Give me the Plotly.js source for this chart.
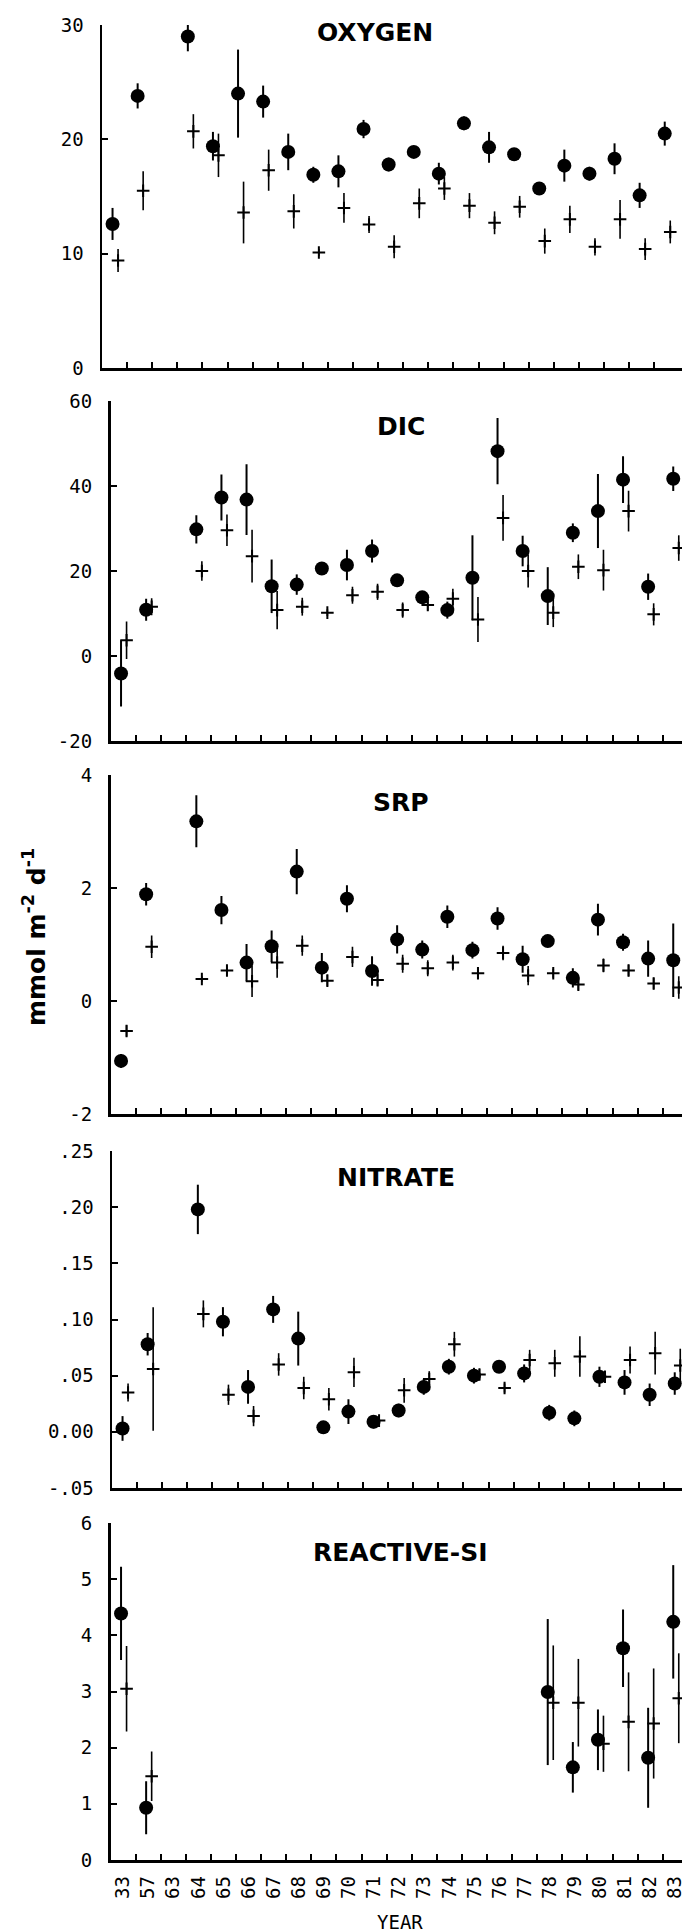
<!DOCTYPE html>
<html><head><meta charset="utf-8">
<script src="https://cdn.plot.ly/plotly-3.0.1.min.js"></script>
<style>html,body{margin:0;padding:0;background:#fff}</style>
</head><body>
<div id="chart" style="width:682px;height:1932px"></div>
<script>
// ---- data ----
const years = ['33','57','63','64','65','66','67','68','69','70','71','72','73','74','75','76','77','78','79','80','81','82','83'];

const oxygenCircle    = [12.6, 23.8, null, 29.0, 19.4, 24.0, 23.3, 18.9, 16.9, 17.2, 20.9, 17.8, 18.9, 17.0, 21.4, 19.3, 18.7, 15.7, 17.7, 17.0, 18.3, 15.1, 20.5];
const oxygenCircleErr = [1.4, 1.1, null, 1.3, 1.25, 3.85, 1.4, 1.6, 0.7, 1.4, 0.8, 0.6, 0.5, 0.95, 0.6, 1.35, 0.5, 0.5, 1.4, 0.6, 1.35, 1.1, 1.05];
const oxygenCross     = [9.4, 15.5, null, 20.7, 18.6, 13.6, 17.3, 13.7, 10.1, 14.0, 12.55, 10.6, 14.4, 15.7, 14.2, 12.7, 14.1, 11.1, 13.0, 10.6, 13.0, 10.4, 11.9];
const oxygenCrossErr  = [1.0, 1.7, null, 1.5, 1.9, 2.7, 1.8, 1.5, 0.3, 1.3, 0.75, 1.0, 1.3, 1.0, 1.1, 1.0, 0.95, 1.1, 1.2, 0.75, 1.7, 0.95, 1.0];

const dicCircle    = [-4.1, 10.9, null, 29.8, 37.3, 36.8, 16.4, 16.8, 20.6, 21.4, 24.7, 17.8, 13.8, 10.8, 18.4, 48.2, 24.7, 14.1, 29.0, 34.1, 41.5, 16.3, 41.7];
const dicCircleErr = [7.8, 2.6, null, 3.3, 5.4, 8.3, 6.3, 2.4, 1.0, 3.6, 2.7, 1.0, 1.3, 2.0, 10.0, 7.8, 3.6, 6.8, 2.2, 8.7, 5.5, 3.1, 2.9];
const dicCross     = [3.7, 11.6, null, 20.0, 29.6, 23.5, 10.8, 11.6, 10.2, 14.3, 15.1, 10.8, 12.0, 13.5, 8.6, 32.5, 20.0, 10.2, 21.0, 20.2, 34.1, 9.8, 25.4];
const dicCrossErr  = [4.4, 2.0, null, 2.3, 3.7, 6.2, 4.5, 2.1, 0.8, 2.0, 1.9, 1.8, 1.3, 2.3, 5.3, 5.4, 3.9, 3.4, 2.9, 4.8, 4.8, 2.6, 3.0];

const srpCircle    = [-1.06, 1.89, null, 3.18, 1.61, 0.68, 0.97, 2.29, 0.59, 1.81, 0.53, 1.09, 0.91, 1.49, 0.90, 1.46, 0.74, 1.06, 0.41, 1.44, 1.04, 0.75, 0.72];
const srpCircleErr = [0.12, 0.2, null, 0.46, 0.25, 0.33, 0.28, 0.4, 0.26, 0.24, 0.26, 0.25, 0.16, 0.2, 0.15, 0.2, 0.24, 0.1, 0.17, 0.28, 0.15, 0.32, 0.65];
const srpCross     = [-0.53, 0.96, null, 0.39, 0.54, 0.35, 0.68, 0.98, 0.36, 0.78, 0.37, 0.66, 0.58, 0.68, 0.49, 0.85, 0.45, 0.49, 0.29, 0.63, 0.54, 0.31, 0.24];
const srpCrossErr  = [0.1, 0.2, null, 0.05, 0.07, 0.28, 0.27, 0.18, 0.1, 0.18, 0.1, 0.16, 0.14, 0.14, 0.1, 0.13, 0.17, 0.08, 0.1, 0.12, 0.1, 0.1, 0.2];

const nitrateCircle    = [0.003, 0.078, null, 0.198, 0.098, 0.040, 0.109, 0.083, 0.004, 0.018, 0.009, 0.019, 0.040, 0.058, 0.050, 0.058, 0.052, 0.017, 0.012, 0.049, 0.044, 0.033, 0.043];
const nitrateCircleErr = [0.011, 0.010, null, 0.022, 0.013, 0.015, 0.012, 0.024, 0.003, 0.011, 0.006, 0.006, 0.007, 0.007, 0.007, 0.005, 0.008, 0.007, 0.007, 0.009, 0.011, 0.010, 0.010];
const nitrateCross     = [0.035, 0.056, null, 0.105, 0.033, 0.014, 0.060, 0.039, 0.029, 0.053, 0.010, 0.037, 0.047, 0.078, 0.051, 0.039, 0.064, 0.061, 0.067, 0.049, 0.064, 0.070, 0.059];
const nitrateCrossErr  = [0.008, 0.055, null, 0.012, 0.009, 0.009, 0.010, 0.010, 0.010, 0.013, 0.004, 0.011, 0.007, 0.011, 0.005, 0.004, 0.009, 0.012, 0.018, 0.005, 0.012, 0.019, 0.015];

const siCircle    = [4.39, 0.93, null, null, null, null, null, null, null, null, null, null, null, null, null, null, null, 2.99, 1.65, 2.14, 3.77, 1.82, 4.24];
const siCircleErr = [0.83, 0.47, null, null, null, null, null, null, null, null, null, null, null, null, null, null, null, 1.3, 0.45, 0.54, 0.69, 0.89, 1.01];
const siCross     = [3.05, 1.49, null, null, null, null, null, null, null, null, null, null, null, null, null, null, null, 2.80, 2.80, 2.07, 2.46, 2.43, 2.88];
const siCrossErr  = [0.76, 0.44, null, null, null, null, null, null, null, null, null, null, null, null, null, null, null, 1.02, 0.78, 0.5, 0.88, 0.98, 0.8];

const panelTitles = ['OXYGEN', 'DIC', 'SRP', 'NITRATE', 'REACTIVE-SI'];
const yTickVals = [[0,10,20,30], [-20,0,20,40,60], [-2,0,2,4], [-0.05,0,0.05,0.10,0.15,0.20,0.25], [0,1,2,3,4,5,6]];
const yTickText = [['0','10','20','30'], ['-20','0','20','40','60'], ['-2','0','2','4'], ['-.05','0.00','.05','.10','.15','.20','.25'], ['0','1','2','3','4','5','6']];
const yRanges = [[0,30], [-20,60], [-2,4], [-0.05,0.25], [0,6]];
const yAxisTitle = 'mmol m<sup>-2</sup> d<sup>-1</sup>';
const xAxisTitle = 'YEAR';

// ---- geometry / style ----
const W = 682, H = 1932, CAT = 25.1;
const geo = [
  {left:102,   top:25,   bottom:368,  tx:375, ty:33},
  {left:110.5, top:401,  bottom:741,  tx:401, ty:427},
  {left:110.5, top:775,  bottom:1114, tx:401, ty:803},
  {left:112,   top:1151, bottom:1488, tx:396, ty:1177},
  {left:110.5, top:1523, bottom:1860, tx:400, ty:1552}
];
const series = [
  [oxygenCircle, oxygenCircleErr, oxygenCross, oxygenCrossErr],
  [dicCircle, dicCircleErr, dicCross, dicCrossErr],
  [srpCircle, srpCircleErr, srpCross, srpCrossErr],
  [nitrateCircle, nitrateCircleErr, nitrateCross, nitrateCrossErr],
  [siCircle, siCircleErr, siCross, siCrossErr]
];
const idx = years.map((_, i) => i);
const tickFont = {family: 'DejaVu Sans Mono', size: 19, color: '#000'};

const traces = [];
const layout = {
  width: W, height: H, margin: {l:0, r:0, t:0, b:0},
  paper_bgcolor: '#fff', plot_bgcolor: '#fff', showlegend: false,
  annotations: []
};

series.forEach((s, p) => {
  const n = p === 0 ? '' : String(p + 1);
  const xa = 'x' + n, ya = 'y' + n;
  traces.push({
    type: 'scatter', mode: 'markers', xaxis: xa, yaxis: ya,
    x: idx.map(i => i - 0.08), y: s[0],
    marker: {symbol: 'circle', size: 14, color: '#000'},
    error_y: {type: 'data', array: s[1], visible: true, thickness: 2, width: 0, color: '#000'},
    cliponaxis: false, hoverinfo: 'skip'
  });
  traces.push({
    type: 'scatter', mode: 'markers', xaxis: xa, yaxis: ya,
    x: idx.map(i => i + 0.14), y: s[2],
    marker: {symbol: 'cross-thin', size: 9, color: '#000', line: {color: '#000', width: 2}},
    error_y: {type: 'data', array: s[3], visible: true, thickness: 1.6, width: 0, color: '#000'},
    cliponaxis: false, hoverinfo: 'skip'
  });
  const g = geo[p];
  const last = p === series.length - 1;
  layout['xaxis' + n] = {
    domain: [g.left / W, 1], anchor: ya,
    range: [-0.5, -0.5 + (W - g.left) / CAT],
    showgrid: false, zeroline: false, showline: true, linecolor: '#000', linewidth: 2.5,
    tickmode: 'array', tickvals: idx, ticktext: years, ticks: '',
    showticklabels: last, tickangle: -90, tickfont: tickFont, ticklabelstandoff: 6,
    ticklabeloverflow: 'allow',
    minor: {tickmode: 'array', tickvals: idx.slice(0, -1).map(i => i + 0.5), ticks: 'inside', ticklen: 6, tickwidth: 2, tickcolor: '#000', showgrid: false}
  };
  layout['yaxis' + n] = {
    domain: [1 - g.bottom / H, 1 - g.top / H], anchor: xa,
    range: yRanges[p],
    showgrid: false, zeroline: false, showline: true, linecolor: '#000', linewidth: 2.5,
    tickmode: 'array', tickvals: yTickVals[p], ticktext: yTickText[p],
    ticks: 'inside', ticklen: 6, tickwidth: 2, tickcolor: '#000',
    tickfont: tickFont, ticklabelstandoff: 12
  };
  layout.annotations.push({
    text: '<b>' + panelTitles[p] + '</b>', xref: 'paper', yref: 'paper',
    x: g.tx / W, y: 1 - g.ty / H, xanchor: 'center', yanchor: 'middle', showarrow: false,
    font: {family: 'DejaVu Sans', size: 25, color: '#000'}
  });
});

layout.annotations.push({
  text: '<b>' + yAxisTitle + '</b>', xref: 'paper', yref: 'paper',
  x: 34 / W, y: 1 - 937 / H, xanchor: 'center', yanchor: 'middle', showarrow: false,
  textangle: -90, font: {family: 'DejaVu Sans', size: 25, color: '#000'}
});
layout.annotations.push({
  text: xAxisTitle, xref: 'paper', yref: 'paper',
  x: 400 / W, y: 1 - 1922 / H, xanchor: 'center', yanchor: 'middle', showarrow: false,
  font: {family: 'DejaVu Sans Mono', size: 19, color: '#000'}
});

Plotly.newPlot('chart', traces, layout, {staticPlot: true, displayModeBar: false});
</script>
</body></html>
